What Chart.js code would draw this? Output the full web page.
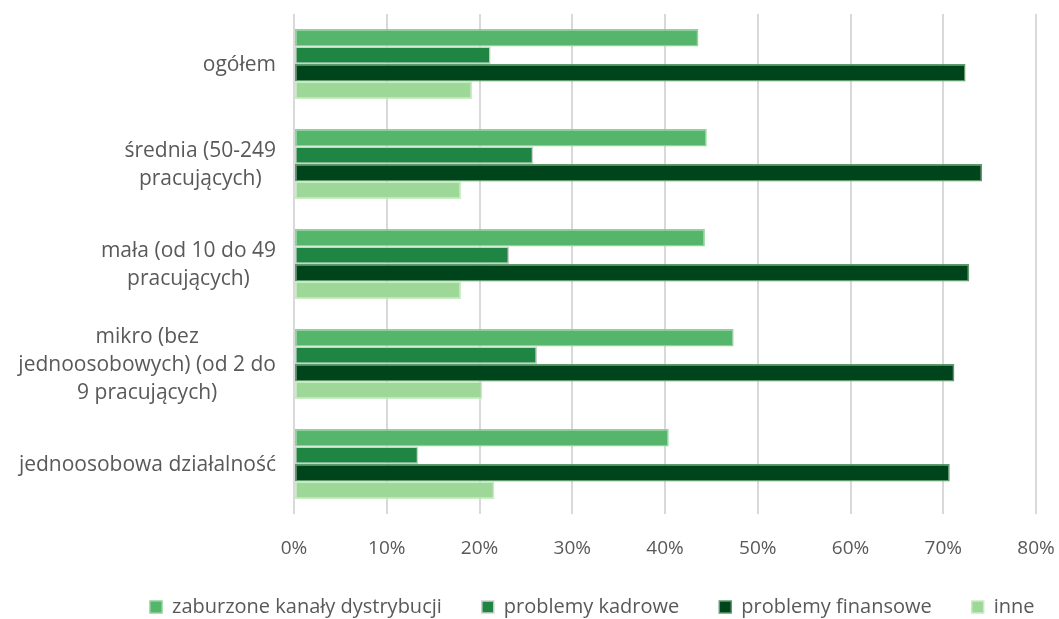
<!DOCTYPE html>
<html>
<head>
<meta charset="utf-8">
<script src="https://cdn.jsdelivr.net/npm/chart.js@4/dist/chart.umd.min.js"></script>
<style>
html,body{margin:0;padding:0;background:#fff;}
#wrap{width:1059px;height:619px;position:relative;}
</style>
</head>
<body>
<div id="wrap"><canvas id="c" width="1059" height="619"></canvas></div>
<script>
const categories = [
  ["ogółem"],
  ["średnia (50-249", "pracujących)"],
  ["mała (od 10 do 49", "pracujących)"],
  ["mikro (bez", "jednoosobowych) (od 2 do", "9 pracujących)"],
  ["jednoosobowa działalność"]
];
const seriesNames = ["zaburzone kanały dystrybucji", "problemy kadrowe", "problemy finansowe", "inne"];
const zaburzone = [43.6, 44.5, 44.3, 47.4, 40.4];
const kadrowe   = [21.2, 25.8, 23.2, 26.2, 13.4];
const finansowe = [72.4, 74.2, 72.8, 71.2, 70.7];
const inne      = [19.2, 18.0, 18.0, 20.3, 21.6];
const xTicks = [0, 10, 20, 30, 40, 50, 60, 70, 80];

const colors = ["#55B56A", "#1E8543", "#00441B", "#9ED898"];
const borders = ["#8fd29b", "#cfcfcf", "#5f9a6c", "#c9ecc4"];
const FONT = "'Open Sans', sans-serif";
const TXT = "#595959";

const labelPlugin = {
  id: 'catLabels',
  afterLayout(chart) {
    // shift legend to the right, like the original's layout
    const lg = chart.legend;
    if (lg) {
      const first = 150;
      const lw = lg.lineWidths ? lg.lineWidths[0] : 0;
      const pad = lg.options.labels.padding;
      const cur = (lg.left + pad + lg.right - lw) / 2;
      const d = first - cur;
      lg.left += d; lg.right += d;
    }
  },
  afterDraw(chart) {
    const ctx = chart.ctx;
    const ys = chart.scales.y;
    ctx.save();
    ctx.font = "21px " + FONT;
    ctx.fillStyle = TXT;
    ctx.textBaseline = 'middle';
    ctx.textAlign = 'center';
    const right = 276, lh = 28;
    categories.forEach((lines, i) => {
      const cy = ys.getPixelForValue(i) + 1;
      const w = Math.max(...lines.map(l => ctx.measureText(l).width));
      const cx = right - w / 2;
      const y0 = cy - (lines.length - 1) * lh / 2;
      lines.forEach((l, k) => ctx.fillText(l, cx, y0 + k * lh));
    });
    ctx.restore();
  }
};

new Chart(document.getElementById('c'), {
  type: 'bar',
  data: {
    labels: categories.map(l => l.join(' ')),
    datasets: [zaburzone, kadrowe, finansowe, inne].map((d, i) => ({
      label: seriesNames[i],
      data: d,
      backgroundColor: colors[i],
      borderColor: borders[i],
      borderWidth: 1.5,
      borderSkipped: false,
      categoryPercentage: 0.7,
      barPercentage: 1.0
    }))
  },
  options: {
    indexAxis: 'y',
    responsive: false,
    animation: false,
    layout: { padding: { left: 0, right: 23, top: 14, bottom: -8 } },
    scales: {
      x: {
        min: 0, max: 80,
        afterBuildTicks(s) { s.ticks = xTicks.map(v => ({ value: v })); },
        afterFit(s) { s.height = 43; s.paddingLeft = 0; s.paddingRight = 0; },
        ticks: {
          callback: v => v + '%',
          color: TXT,
          font: { family: FONT, size: 19 },
          padding: 23
        },
        grid: { color: '#d9d9d9', lineWidth: 2, drawTicks: false },
        border: { display: false }
      },
      y: {
        ticks: { display: false },
        grid: { display: false },
        border: { display: false },
        afterFit(s) { s.width = 294; }
      }
    },
    plugins: {
      legend: {
        position: 'bottom',
        labels: {
          color: TXT,
          font: { family: FONT, size: 20 },
          boxWidth: 12, boxHeight: 12,
          padding: 40
        }
      },
      tooltip: { enabled: false }
    }
  },
  plugins: [labelPlugin]
});
</script>
</body>
</html>
